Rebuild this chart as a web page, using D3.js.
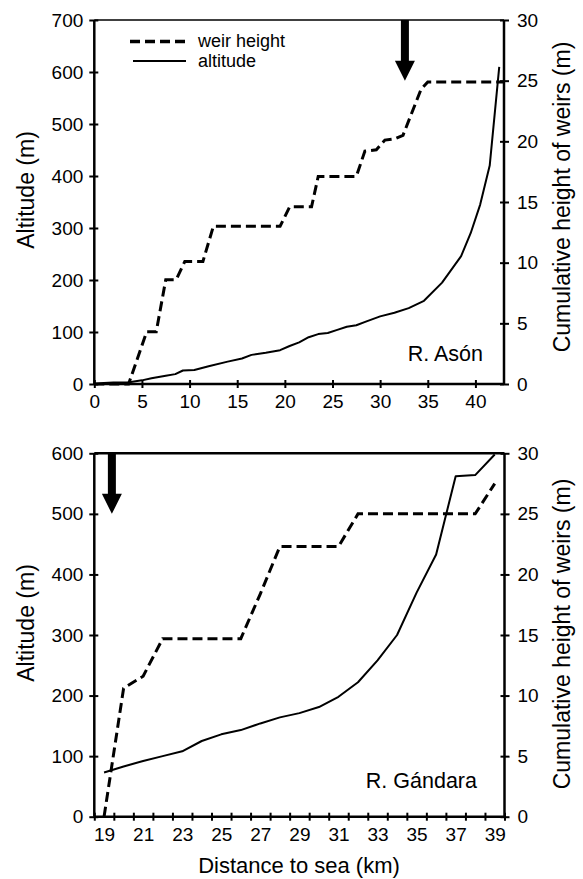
<!DOCTYPE html>
<html><head><meta charset="utf-8">
<script src="https://cdn.jsdelivr.net/npm/d3@7"></script>
<style>
body{margin:0;background:#fff}
svg{display:block}
text{font-family:"Liberation Sans",Arial,Helvetica,sans-serif;fill:#000}
</style>
</head><body>
<svg id="c" width="583" height="879"></svg>
<script>
// ---------- DATA ----------
// R. Asón (top panel)
const asonAltKm  = [0, 1, 2, 3.5, 5, 6, 7.5, 8.5, 9.3, 10.5, 12, 14, 15.5, 16.5, 18, 19.5, 20.5, 21.5, 22.5, 23.5, 24.5, 25.5, 26.5, 27.5, 28.5, 30, 31.5, 33, 34.6, 36.5, 38.5, 39.5, 40.5, 41.5, 42.5];
const asonAlt    = [0, 2, 3, 3, 7, 11, 16, 19, 26, 27, 34, 43, 49, 56, 60, 65, 73, 80, 90, 96, 98, 104, 110, 113, 120, 130, 137, 146, 160, 195, 246, 290, 345, 420, 610];
const asonWeirKm = [0, 3.6, 5.5, 6.5, 7.5, 8.6, 9.5, 11.4, 12.5, 19.5, 20.5, 22.8, 23.5, 27.5, 28.4, 29.6, 30.5, 31.5, 32.4, 34.3, 35, 43];
const asonWeir   = [0, 0, 4.3, 4.3, 8.6, 8.6, 10.1, 10.1, 13.0, 13.0, 14.6, 14.6, 17.1, 17.1, 19.2, 19.3, 20.1, 20.2, 20.5, 24.3, 24.9, 24.9];
const asonXTicks = [0, 5, 10, 15, 20, 25, 30, 35, 40];
const asonAltTicks = [0, 100, 200, 300, 400, 500, 600, 700];
const asonArrow = {km: 32.6, tip: 25};           // on weir scale

// R. Gándara (bottom panel), one value per km category
const gandaraKm   = [19, 20, 21, 22, 23, 24, 25, 26, 27, 28, 29, 30, 31, 32, 33, 34, 35, 36, 37, 38, 39];
const gandaraAlt  = [73, 83, 92, 100, 108, 125, 136, 143, 154, 164, 171, 181, 198, 222, 258, 300, 370, 433, 562, 564, 598];
const gandaraWeir = [0, 10.6, 11.6, 14.7, 14.7, 14.7, 14.7, 14.7, 18.4, 22.3, 22.3, 22.3, 22.3, 25, 25, 25, 25, 25, 25, 25, 27.5];
const gandaraXLabels = [19, 21, 23, 25, 27, 29, 31, 33, 35, 37, 39];
const gandaraAltTicks = [0, 100, 200, 300, 400, 500, 600];
const gandaraArrow = {km: 19.4, tip: 500};       // on altitude scale

const weirTicks = [0, 5, 10, 15, 20, 25, 30];
const legendLabels = ["weir height", "altitude"];

// ---------- DRAW ----------
const svg = d3.select("#c");
const TICKF = 19;

function crossTicks(g, inner, outer, orient){
  g.selectAll(".tick line").each(function(){
    const l = d3.select(this);
    if(orient==="left"){ l.attr("x1", inner).attr("x2", -outer); }
    else if(orient==="right"){ l.attr("x1", -inner).attr("x2", outer); }
    else { l.attr("y1", -inner).attr("y2", outer); }
  });
  g.selectAll(".tick line").attr("stroke", "#000").attr("stroke-width", 2);
  g.selectAll(".tick text").style("font-size", TICKF + "px").attr("font-family", null);
}

function panel(cfg){
  const {x, yL, yR} = cfg;
  const [x0, x1] = x.range();
  const [yb, yt] = yL.range();
  const g = svg.append("g");

  // top border
  g.append("line").attr("x1", x0).attr("x2", x1).attr("y1", yt).attr("y2", yt)
    .attr("stroke", "#000").attr("stroke-width", cfg.topW);

  // left axis
  const gl = g.append("g").attr("transform", `translate(${x0},0)`)
    .call(d3.axisLeft(yL).tickValues(cfg.altTicks).tickSize(5).tickPadding(6).tickFormat(d3.format("d")));
  gl.select(".domain").attr("stroke-width", 2.5).attr("d", `M0,${yb}V${yt}`);
  crossTicks(gl, 4, 5, "left");

  // right axis
  const gr = g.append("g").attr("transform", `translate(${x1},0)`)
    .call(d3.axisRight(yR).tickValues(weirTicks).tickSize(5).tickPadding(8).tickFormat(d3.format("d")));
  gr.select(".domain").attr("stroke-width", 2.5).attr("d", `M0,${yb}V${yt}`);
  crossTicks(gr, 4, 5, "right");

  // bottom axis
  if(cfg.catTicks){
    const gm = g.append("g").attr("transform", `translate(0,${yb})`)
      .call(d3.axisBottom(x).tickValues(cfg.catTicks).tickSize(4).tickFormat(""));
    gm.select(".domain").attr("stroke-width", 2.5).attr("d", `M${x0},0H${x1}`);
    crossTicks(gm, 4, 4, "bottom");
    const gt = g.append("g").attr("transform", `translate(0,${yb})`)
      .call(d3.axisBottom(x).tickValues(cfg.xLabels).tickSize(0).tickPadding(11).tickFormat(d3.format("d")));
    gt.select(".domain").remove();
    gt.selectAll(".tick text").style("font-size", TICKF + "px").attr("font-family", null);
  } else {
    const gb = g.append("g").attr("transform", `translate(0,${yb})`)
      .call(d3.axisBottom(x).tickValues(cfg.xLabels).tickSize(4).tickPadding(7).tickFormat(d3.format("d")));
    gb.select(".domain").attr("stroke-width", 2.5).attr("d", `M${x0},0H${x1}`);
    crossTicks(gb, 4, 4, "bottom");
  }

  // lines
  g.append("path").datum(d3.zip(cfg.altKm, cfg.alt))
    .attr("d", d3.line().x(d => x(d[0])).y(d => yL(d[1])))
    .attr("fill", "none").attr("stroke", "#000").attr("stroke-width", 2).attr("stroke-linejoin", "round");
  g.append("path").datum(d3.zip(cfg.weirKm, cfg.weir))
    .attr("d", d3.line().x(d => x(d[0])).y(d => yR(d[1])))
    .attr("fill", "none").attr("stroke", "#000").attr("stroke-width", 3).attr("stroke-dasharray", "10,5");

  // arrow
  const ax = x(cfg.arrowKm), tipY = cfg.arrowY, top = yt;
  const hl = 20, sw = 4, hw = 10;
  g.append("path")
    .attr("d", `M${ax-sw},${top}H${ax+sw}V${tipY-hl}H${ax+hw}L${ax},${tipY}L${ax-hw},${tipY-hl}H${ax-sw}Z`)
    .attr("fill", "#000");

  // river name
  g.append("text").attr("x", cfg.nameX).attr("y", cfg.nameY).attr("text-anchor", "end")
    .style("font-size", "21.5px").text(cfg.name);

  // axis titles
  g.append("text").attr("transform", `translate(${cfg.ltX},${(yb+yt)/2 + cfg.ltDy}) rotate(-90)`)
    .attr("text-anchor", "middle").style("font-size", "23px").text("Altitude (m)");
  g.append("text").attr("transform", `translate(${cfg.rtX},${(yb+yt)/2 + cfg.rtDy}) rotate(-90)`)
    .attr("text-anchor", "middle").style("font-size", "23px").text("Cumulative height of weirs (m)");
  return g;
}

// Top panel scales
const xA = d3.scaleLinear().domain([0, 43]).range([94.3, 504]);
const yAL = d3.scaleLinear().domain([0, 700]).range([384, 20]);
const yAR = d3.scaleLinear().domain([0, 30]).range([384, 20]);
panel({x: xA, yL: yAL, yR: yAR, topW: 1.5, altTicks: asonAltTicks, xLabels: asonXTicks,
  altKm: asonAltKm, alt: asonAlt, weirKm: asonWeirKm, weir: asonWeir,
  arrowKm: asonArrow.km, arrowY: yAR(asonArrow.tip),
  name: "R. Asón", nameX: 483, nameY: 361,
  ltX: 34, ltDy: -12, rtX: 570, rtDy: -5});

// Bottom panel scales (km categories centred between tick marks)
const xG = d3.scaleLinear().domain([d3.min(gandaraKm) - 0.5, d3.max(gandaraKm) + 0.5]).range([94.3, 504.5]);
const yGL = d3.scaleLinear().domain([0, 600]).range([816.7, 453.3]);
const yGR = d3.scaleLinear().domain([0, 30]).range([816.7, 453.3]);
const catTicks = gandaraKm.map(k => k - 0.5).concat([d3.max(gandaraKm) + 0.5]);
panel({x: xG, yL: yGL, yR: yGR, topW: 2.5, altTicks: gandaraAltTicks, xLabels: gandaraXLabels, catTicks,
  altKm: gandaraKm, alt: gandaraAlt, weirKm: gandaraKm, weir: gandaraWeir,
  arrowKm: gandaraArrow.km, arrowY: yGL(gandaraArrow.tip),
  name: "R. Gándara", nameX: 477, nameY: 788,
  ltX: 34, ltDy: -12, rtX: 570, rtDy: -1});

// x title
svg.append("text").attr("x", 299).attr("y", 873).attr("text-anchor", "middle")
  .style("font-size", "22px").text("Distance to sea (km)");

// legend
const lg = svg.append("g");
const legY = [41.5, 61];
lg.selectAll("line").data(legendLabels).join("line")
  .attr("x1", (d,i) => i === 0 ? 130 : 133).attr("x2", 186)
  .attr("y1", (d,i) => legY[i]).attr("y2", (d,i) => legY[i])
  .attr("stroke", "#000").attr("stroke-width", (d,i) => i === 0 ? 3.5 : 2)
  .attr("stroke-dasharray", (d,i) => i === 0 ? "10,5" : null);
lg.selectAll("text").data(legendLabels).join("text")
  .attr("x", 198).attr("y", (d,i) => legY[i] + 5.5)
  .style("font-size", "18px").text(d => d);
</script>
</body></html>
